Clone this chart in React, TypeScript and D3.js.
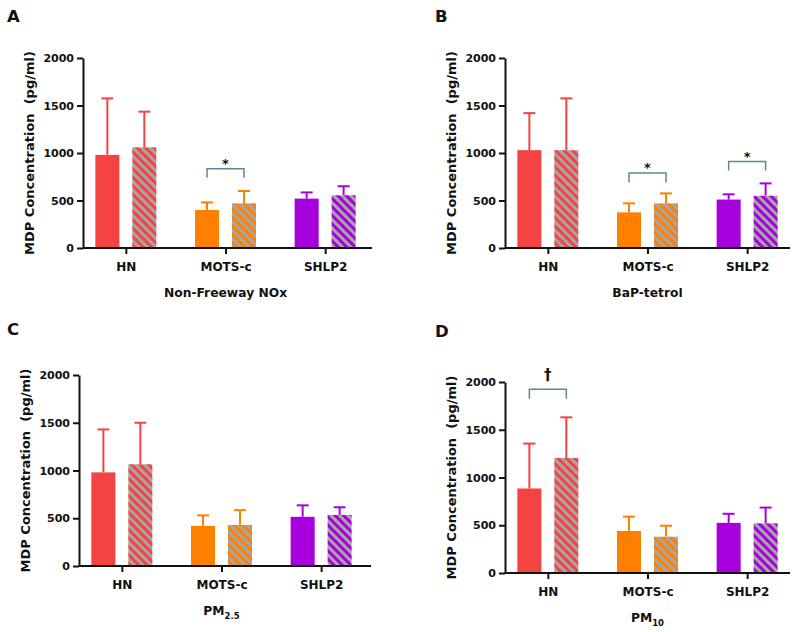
import React from "react";
import * as d3 from "d3";

const categories = ["HN", "MOTS-c", "SHLP2"];
const groups = ["low", "high"];
const yTicks = [0, 500, 1000, 1500, 2000];
const panelLetters = ["A", "B", "C", "D"];
const exposureNames = ["Non-Freeway NOx", "BaP-tetrol", "PM", "PM"];
const exposureSubs = ["", "", "2.5", "10"];

// solid bars (low exposure) and hatched bars (high exposure), one row per panel
const lowMean = [
  [980, 400, 520],
  [1030, 375, 510],
  [980, 420, 515],
  [885, 440, 525],
];
const lowSD = [
  [595, 80, 65],
  [390, 95, 55],
  [450, 110, 120],
  [470, 150, 95],
];
const highMean = [
  [1060, 470, 555],
  [1030, 470, 550],
  [1065, 430, 535],
  [1205, 380, 520],
];
const highSD = [
  [375, 130, 95],
  [545, 105, 130],
  [435, 155, 80],
  [425, 115, 165],
];

// significance brackets (top and leg end in pg/ml)
const brackets = [
  { panel: 0, cat: "MOTS-c", top: 835, end: 740, mark: "*" },
  { panel: 1, cat: "MOTS-c", top: 790, end: 690, mark: "*" },
  { panel: 1, cat: "SHLP2", top: 910, end: 815, mark: "*" },
  { panel: 3, cat: "HN", top: 1925, end: 1825, mark: "\u2020" },
];

const colors: Record<string, string> = {
  HN: "#f44343",
  "MOTS-c": "#ff8000",
  SHLP2: "#a800dc",
};
const stripe = "#a6a6a6";
const bracketColor = "#5d8a8e";
const font = "'DejaVu Sans', Verdana, sans-serif";

const layout = [
  { x0: 83, x1: 372, yTop: 58, yBot: 248, lx: 7, ly: 22 },
  { x0: 505, x1: 790, yTop: 58, yBot: 248, lx: 435, ly: 22 },
  { x0: 79, x1: 371, yTop: 375, yBot: 566, lx: 7, ly: 335 },
  { x0: 505, x1: 790, yTop: 382, yBot: 573, lx: 435, ly: 337 },
];

function Panel({ i }: { i: number }) {
  const { x0, x1, yTop, yBot, lx, ly } = layout[i];

  const x = d3
    .scalePoint()
    .domain(categories)
    .range([x0, x0 + 285])
    .padding(0.43);
  const inner = d3
    .scaleBand()
    .domain(groups)
    .range([-30.5, 30.5])
    .paddingInner(0.35);
  const y = d3.scaleLinear().domain([0, 2000]).range([yBot, yTop]);

  const yAxis = d3
    .axisLeft(y)
    .tickValues(yTicks)
    .tickFormat(d3.format("d"))
    .tickSize(6)
    .tickPadding(3)
    .tickSizeOuter(0);
  const xAxis = d3.axisBottom(x).tickSize(6).tickPadding(8).tickSizeOuter(0);

  const styleAxis = (g: any, size: number) => {
    g.attr("font-family", font).attr("font-size", size);
    g.selectAll("path,line").attr("stroke", "#111").attr("stroke-width", 2);
    g.selectAll("text").attr("fill", "#111").attr("font-weight", "bold");
  };

  const bars = categories.flatMap((c, j) => [
    { c, g: "low", mean: lowMean[i][j], sd: lowSD[i][j] },
    { c, g: "high", mean: highMean[i][j], sd: highSD[i][j] },
  ]);

  const sub = exposureSubs[i];

  return (
    <g>
      <text x={lx} y={ly} fontSize={16.5} fontWeight="bold" fill="#111">
        {panelLetters[i]}
      </text>

      {bars.map((b, k) => {
        const cx = (x(b.c) as number) + (inner(b.g) as number) + inner.bandwidth() / 2;
        return (
          <g key={k}>
            <line
              x1={cx}
              x2={cx}
              y1={y(b.mean)}
              y2={y(b.mean + b.sd)}
              stroke={colors[b.c]}
              strokeWidth={2}
            />
            <line
              x1={cx - 6}
              x2={cx + 6}
              y1={y(b.mean + b.sd)}
              y2={y(b.mean + b.sd)}
              stroke={colors[b.c]}
              strokeWidth={2}
            />
            <rect
              x={(x(b.c) as number) + (inner(b.g) as number)}
              y={y(b.mean)}
              width={inner.bandwidth()}
              height={yBot - y(b.mean)}
              fill={b.g === "low" ? colors[b.c] : `url(#hatch-${b.c})`}
            />
          </g>
        );
      })}

      {brackets
        .filter((br) => br.panel === i)
        .map((br, k) => {
          const left = (x(br.cat) as number) + (inner("low") as number) + inner.bandwidth() / 2;
          const right = (x(br.cat) as number) + (inner("high") as number) + inner.bandwidth() / 2;
          const top = y(br.top);
          return (
            <g key={k}>
              <path
                d={`M${left},${y(br.end)}V${top}H${right}V${y(br.end)}`}
                fill="none"
                stroke={bracketColor}
                strokeWidth={1.5}
              />
              <text
                x={(left + right) / 2}
                y={br.mark === "*" ? top - 1 : top - 9}
                textAnchor="middle"
                fontSize={br.mark === "*" ? 13 : 15}
                fontWeight="bold"
                fill="#111"
              >
                {br.mark}
              </text>
            </g>
          );
        })}

      <g
        transform={`translate(${x0},0)`}
        ref={(node) => {
          if (node) d3.select(node).call(yAxis).call(styleAxis, 11);
        }}
      />
      <g
        transform={`translate(0,${yBot})`}
        ref={(node) => {
          if (node) {
            d3.select(node).call(xAxis).call(styleAxis, 12);
            d3.select(node).select(".domain").remove();
          }
        }}
      />
      <line x1={x0} x2={x1} y1={yBot} y2={yBot} stroke="#111" strokeWidth={2} />

      <text
        transform={`translate(${x0 - 53},${(yTop + yBot) / 2}) rotate(-90)`}
        textAnchor="middle"
        dominantBaseline="middle"
        fontSize={13}
        fontWeight="bold"
        fill="#111"
        style={{ whiteSpace: "pre" }}
      >
        {"MDP Concentration  (pg/ml)"}
      </text>

      <text
        x={x("MOTS-c") as number}
        y={yBot + 49}
        textAnchor="middle"
        fontSize={12.3}
        fontWeight="bold"
        fill="#111"
      >
        {exposureNames[i]}
        {sub && (
          <tspan fontSize={8.5} dy={4}>
            {sub}
          </tspan>
        )}
      </text>
    </g>
  );
}

export default function App() {
  return (
    <svg
      width={800}
      height={632}
      style={{ position: "absolute", left: 0, top: 0, background: "#fff" }}
      fontFamily={font}
    >
      <defs>
        {categories.map((c) => (
          <pattern
            key={c}
            id={`hatch-${c}`}
            patternUnits="userSpaceOnUse"
            width={6}
            height={6}
            patternTransform="rotate(-45)"
          >
            <rect width={6} height={6} fill={colors[c]} />
            <rect width={3} height={6} fill={stripe} />
          </pattern>
        ))}
      </defs>
      {layout.map((_, i) => (
        <Panel key={i} i={i} />
      ))}
    </svg>
  );
}
